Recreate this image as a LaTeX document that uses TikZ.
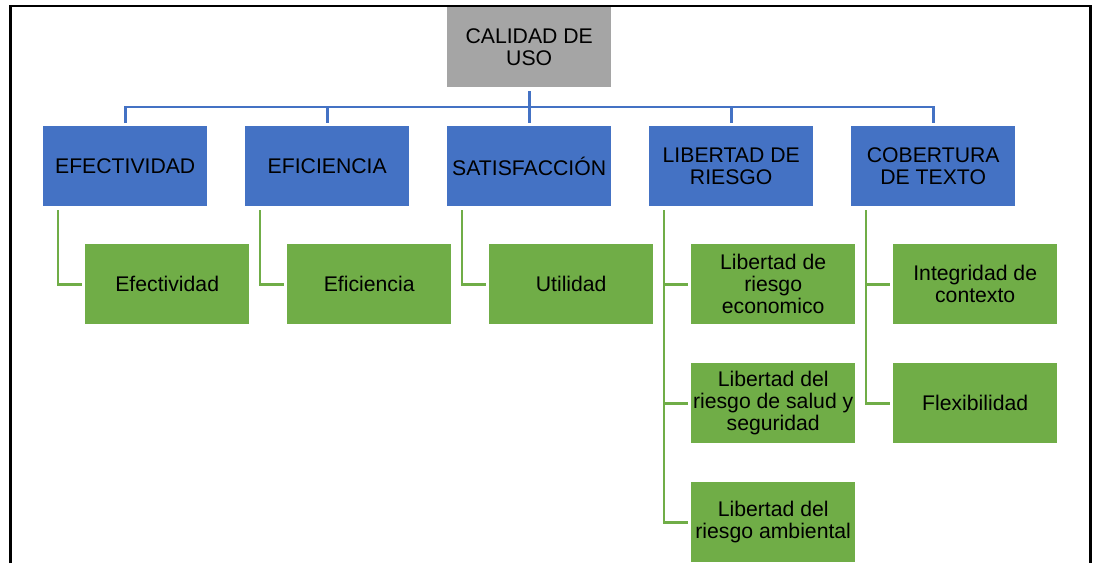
\documentclass[tikz,border=0pt]{standalone}
\usepackage{fontspec}
\setmainfont{Liberation Sans}
\usetikzlibrary{calc}
\definecolor{graybox}{HTML}{A5A5A5}
\definecolor{bluebox}{HTML}{4472C4}
\definecolor{greenbox}{HTML}{70AD47}
\begin{document}
\begin{tikzpicture}[x=1pt,y=-1pt,
  box/.style={minimum width=164pt, minimum height=80pt, inner sep=0pt, align=center,
    font=\fontsize{21.2}{21.8}\selectfont, anchor=north west, text=black},
  topbox/.style={box, fill=graybox},
  catbox/.style={box, fill=bluebox},
  leafbox/.style={box, fill=greenbox},
  blueline/.style={draw=bluebox, line width=2.7pt},
  greenline/.style={draw=greenbox, line width=2.7pt}]
\useasboundingbox (0,0) rectangle (1100,563);
\draw[line width=2.8pt, black] (10.5,563) -- (10.5,6) -- (1090.5,6) -- (1090.5,563);

\node[topbox] (top) at (447,7) {CALIDAD DE\\USO};

\node[catbox] (b1) at (43,126) {EFECTIVIDAD};
\node[catbox] (b2) at (245,126) {EFICIENCIA};
\node[catbox] (b3) at (447,126) {SATISFACCIÓN};
\node[catbox] (b4) at (649,126) {LIBERTAD DE\\RIESGO};
\node[catbox] (b5) at (851,126) {COBERTURA\\DE TEXTO};

\node[leafbox] (g1) at (85,244) {Efectividad};
\node[leafbox] (g2) at (287,244) {Eficiencia};
\node[leafbox] (g3) at (489,244) {Utilidad};
\node[leafbox] (g41) at (691,244) {Libertad de\\riesgo\\economico};
\node[leafbox] (g42) at (691,363) {Libertad del\\riesgo de salud y\\seguridad};
\node[leafbox] (g43) at (691,482) {Libertad del\\riesgo ambiental};
\node[leafbox] (g51) at (893,244) {Integridad de\\contexto};
\node[leafbox] (g52) at (893,363) {Flexibilidad};

% blue connectors
\draw[blueline] ($(top.south)+(0,4)$) -- ($(top.south)+(0,36)$);
\draw[blueline] ($(b1.north)+(0,-3)$) |- ($(b5.north)+(0,-19)$) -- ($(b5.north)+(0,-3)$);
\draw[blueline] ($(b2.north)+(0,-19)$) -- ($(b2.north)+(0,-3)$);
\draw[blueline] ($(b4.north)+(0,-19)$) -- ($(b4.north)+(0,-3)$);

% green connectors
\coordinate (t1) at ($(b1.south west)+(15,4)$);
\coordinate (t2) at ($(b2.south west)+(15,4)$);
\coordinate (t3) at ($(b3.south west)+(15,4)$);
\coordinate (t4) at ($(b4.south west)+(15,4)$);
\coordinate (t5) at ($(b5.south west)+(15,4)$);
\draw[greenline] (t1) |- ($(g1.west)+(-3,0)$);
\draw[greenline] (t2) |- ($(g2.west)+(-3,0)$);
\draw[greenline] (t3) |- ($(g3.west)+(-3,0)$);
\draw[greenline] (t4) |- ($(g43.west)+(-3,0)$);
\draw[greenline] (t4 |- g41.west) -- ($(g41.west)+(-3,0)$);
\draw[greenline] (t4 |- g42.west) -- ($(g42.west)+(-3,0)$);
\draw[greenline] (t5) |- ($(g52.west)+(-3,0)$);
\draw[greenline] (t5 |- g51.west) -- ($(g51.west)+(-3,0)$);
\end{tikzpicture}
\end{document}
